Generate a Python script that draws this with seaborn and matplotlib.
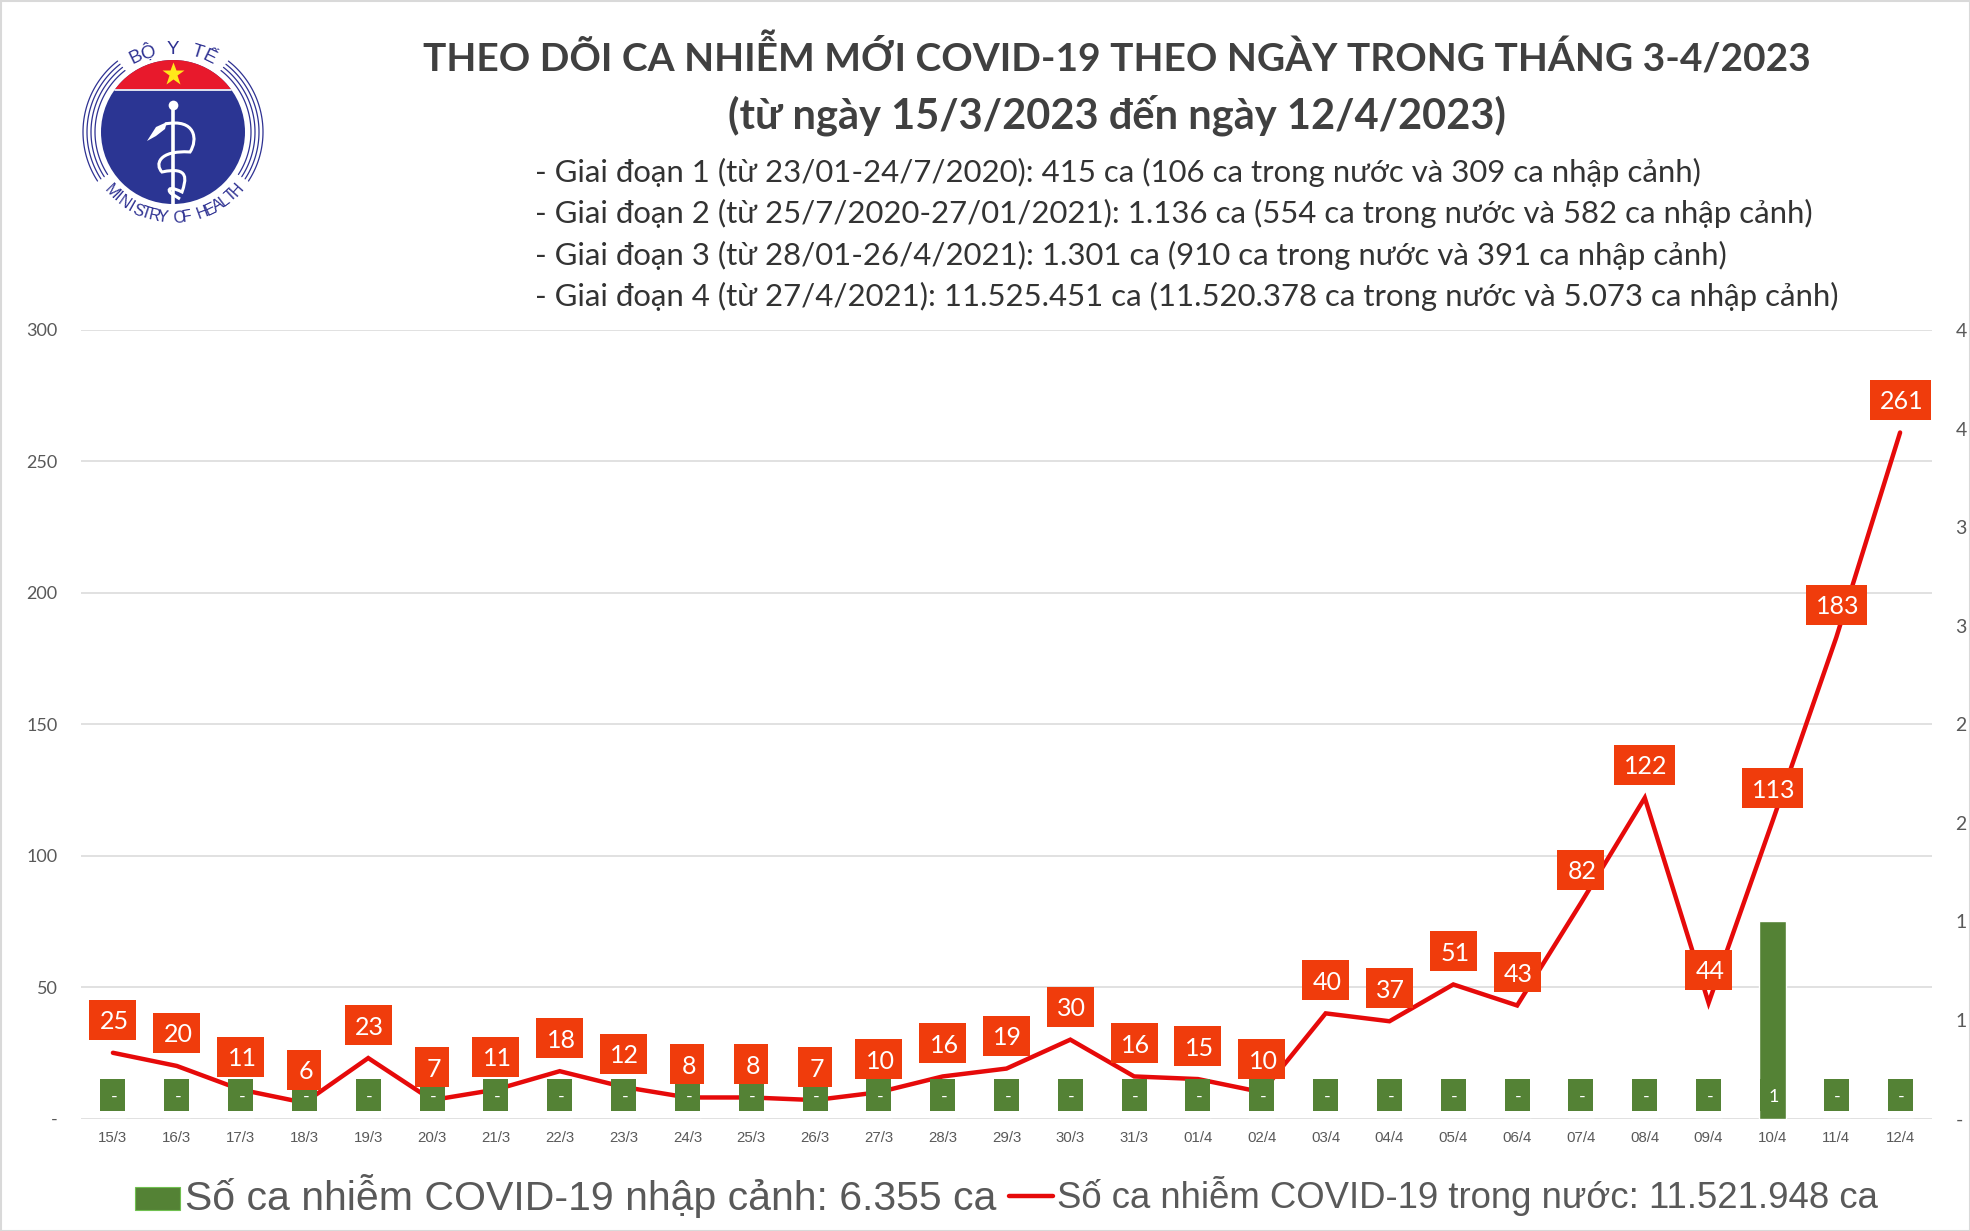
import numpy as np
import pandas as pd
import seaborn as sns
import matplotlib.pyplot as plt
from matplotlib.offsetbox import AnnotationBbox, DrawingArea
from matplotlib.patches import Circle, Polygon, PathPatch, Rectangle
from matplotlib.path import Path

# Du lieu doc tu bieu do
dates = ["15/3", "16/3", "17/3", "18/3", "19/3", "20/3", "21/3", "22/3", "23/3", "24/3",
         "25/3", "26/3", "27/3", "28/3", "29/3", "30/3", "31/3", "01/4", "02/4", "03/4",
         "04/4", "05/4", "06/4", "07/4", "08/4", "09/4", "10/4", "11/4", "12/4"]
domestic = [25, 20, 11, 6, 23, 7, 11, 18, 12, 8, 8, 7, 10, 16, 19, 30, 16, 15, 10, 40,
            37, 51, 43, 82, 122, 44, 113, 183, 261]
imported = [0, 0, 0, 0, 0, 0, 0, 0, 0, 0, 0, 0, 0, 0, 0, 0, 0, 0, 0, 0,
            0, 0, 0, 0, 0, 0, 1, 0, 0]
left_ticks = [0, 50, 100, 150, 200, 250, 300]
left_labels = ["-", "50", "100", "150", "200", "250", "300"]
right_ticks = [0, 0.5, 1, 1.5, 2, 2.5, 3, 3.5, 4]
right_labels = ["-", "1", "1", "2", "2", "3", "3", "4", "4"]

title_lines = ["THEO DÕI CA NHIỄM MỚI COVID-19 THEO NGÀY TRONG THÁNG 3-4/2023",
               "(từ ngày 15/3/2023 đến ngày 12/4/2023)"]
info_lines = ["- Giai đoạn 1 (từ 23/01-24/7/2020): 415 ca (106 ca trong nước và 309 ca nhập cảnh)",
              "- Giai đoạn 2 (từ 25/7/2020-27/01/2021): 1.136 ca (554 ca trong nước và 582 ca nhập cảnh)",
              "- Giai đoạn 3 (từ 28/01-26/4/2021): 1.301 ca (910 ca trong nước và 391 ca nhập cảnh)",
              "- Giai đoạn 4 (từ 27/4/2021): 11.525.451 ca (11.520.378 ca trong nước và 5.073 ca nhập cảnh)"]
legend_bar = "Số ca nhiễm COVID-19 nhập cảnh: 6.355 ca"
legend_line = "Số ca nhiễm COVID-19 trong nước: 11.521.948 ca"

RED_BOX = "#F03C0C"
RED_LINE = "#E60A0A"
GREEN = "#548235"
GREY = "#595959"
NAVY = "#2E3192"
W, H = 1970, 1231
LABEL_FONT = ["Lato", "Open Sans", "DejaVu Sans"]
ARIAL = ["Liberation Sans", "DejaVu Sans"]


def px(v):
    return v * 72 / 100


def add_box(ax, coords, i, y, w, h, dy, color, text, fontsize, zorder):
    """Hop nhan co kich thuoc co dinh theo pixel, dat lech khoi diem du lieu."""
    area = DrawingArea(px(w), px(h), 0, 0)
    area.add_artist(Rectangle((0, 0), px(w), px(h), fc=color, ec="none"))
    box = AnnotationBbox(area, (i, y), xycoords=coords, xybox=(0, px(dy)), boxcoords="offset points",
                         frameon=False, pad=0, box_alignment=(0.5, 0.5), zorder=zorder,
                         annotation_clip=False)
    ax.add_artist(box)
    ax.annotate(text, (i, y), xycoords=coords, xytext=(1, px(dy)), textcoords="offset points", ha="center",
                va="center_baseline", color="white", fontsize=fontsize, family=LABEL_FONT,
                zorder=zorder + 1, annotation_clip=False)


def draw_logo(ov):
    cx, cy, r = 173, 132, 72
    ov.add_patch(Circle((cx, cy), r, fc="#2B3593", ec="none"))
    half = np.arccos(43 / r)
    ang = np.linspace(-half, half, 40)
    ov.add_patch(Polygon(np.c_[cx + r * np.sin(ang), cy - r * np.cos(ang)], fc="#E8192C", ec="none"))
    ov.plot([cx - 58, cx + 58], [89.5, 89.5], color="white", lw=1.2)
    ov.plot([cx], [74], marker="*", ms=17, color="#FFE81A", mec="none")
    for rad in [78, 82, 86, 90]:
        a = np.radians(np.linspace(128, 213, 50))
        ov.plot(cx + rad * np.cos(a), cy - rad * np.sin(a), color=NAVY, lw=0.9)
        ov.plot(cx - rad * np.cos(a), cy - rad * np.sin(a), color=NAVY, lw=0.9)
    # gay va ran
    ov.plot([cx, cx], [106, 204], color="white", lw=2.6, solid_capstyle="round")
    ov.plot([cx], [105], marker="o", ms=7, color="white", mec="none")
    snake = Path([(165, 124), (196, 118), (198, 140), (190, 152), (158, 150), (155, 165), (162, 172),
                  (190, 166), (186, 180), (182, 192), (166, 184), (168, 192), (172, 194), (180, 199)],
                 [Path.MOVETO] + [Path.CURVE4] * 12 + [Path.LINETO])
    ov.add_patch(PathPatch(snake, fc="none", ec="white", lw=2.2))
    ov.add_patch(Polygon([(147, 141), (156, 127), (167, 122), (165, 129), (156, 136)], fc="white", ec="none"))
    for k, ch in enumerate("BỘ Y TẾ"):
        t = np.radians(-26 + k * 52 / 6)
        ov.text(cx + 83 * np.sin(t), cy - 83 * np.cos(t), ch, rotation=-np.degrees(t), ha="center",
                va="center", fontsize=13.5, color=NAVY, family=ARIAL)
    for k, ch in enumerate("MINISTRY OF HEALTH"):
        t = np.radians(-46 + k * 94 / 17)
        ov.text(cx + 86 * np.sin(t), cy + 86 * np.cos(t), ch, rotation=np.degrees(t), ha="center",
                va="center", fontsize=11.5, color=NAVY, family=ARIAL)


def main():
    sns.set_theme(style="white")
    fig = plt.figure(figsize=(W / 100, H / 100), dpi=100, facecolor="white")
    ax = fig.add_axes([81 / W, 1 - 1118.5 / H, (1932 - 81) / W, (1118.5 - 330) / H])
    ax2 = ax.twinx()

    df = pd.DataFrame({"date": dates, "pos": np.arange(len(dates)), "domestic": domestic, "imported": imported})

    sns.lineplot(data=df, x="pos", y="domestic", ax=ax, color=RED_LINE, linewidth=3.2, sort=False,
                 solid_capstyle="round", solid_joinstyle="miter", zorder=3)
    sns.barplot(data=df, x="pos", y="imported", ax=ax2, color=GREEN, saturation=1, width=0.42, zorder=2)

    ax.set_xlim(-0.5, len(dates) - 0.5)
    ax2.set_xlim(-0.5, len(dates) - 0.5)
    ax.set_ylim(0, 300)
    ax2.set_ylim(0, 4)
    ax.set_yticks(left_ticks, left_labels)
    ax2.set_yticks(right_ticks, right_labels)
    ax.set_xticks(df["pos"], dates)
    ax.set_xlabel("")
    ax.set_ylabel("")
    ax2.set_xlabel("")
    ax2.set_ylabel("")
    ax.grid(axis="y", color="#D9D9D9", lw=1.1)
    ax.grid(axis="x", visible=False)
    ax.set_axisbelow(True)
    ax2.grid(False)
    for a in (ax, ax2):
        for s in a.spines.values():
            s.set_visible(False)
    ax.tick_params(axis="y", length=0, pad=17, labelsize=13, labelcolor=GREY)
    ax.tick_params(axis="x", length=0, pad=9, labelsize=10.8, labelcolor=GREY)
    ax2.tick_params(axis="y", length=0, pad=17, labelsize=14, labelcolor=GREY)
    for lab in ax.get_yticklabels() + ax2.get_yticklabels():
        lab.set_family(LABEL_FONT)
    for lab in ax.get_xticklabels():
        lab.set_family(ARIAL)

    # nhan do nam tren nhan xanh, duong do nam duoi nhan xanh
    for i, v in enumerate(imported):
        add_box(ax2, ax2.transData, i, 0, 25, 32, 23.5, GREEN, str(v) if v else "-", 13, 5)
    for i, v in enumerate(domestic):
        width = {1: 34, 2: 47, 3: 61}[len(str(v))]
        add_box(ax2, ax.transData, i, v, width, 40, 33, RED_BOX, str(v), 18, 7)

    # lop phu theo pixel cho tieu de, logo, chu thich
    ov = fig.add_axes([0, 0, 1, 1], facecolor="none", zorder=10)
    ov.set_xlim(0, W)
    ov.set_ylim(H, 0)
    ov.axis("off")
    ov.add_patch(Rectangle((0.5, 0.5), W - 1, H - 1, fc="none", ec="#D9D9D9", lw=1.5))

    ov.text(1117, 56, title_lines[0], ha="center", va="center", fontsize=28, fontweight="bold",
            color="#404040", family=LABEL_FONT)
    ov.text(1117, 115, title_lines[1], ha="center", va="center", fontsize=30, fontweight="bold",
            color="#404040", family=LABEL_FONT)
    for line, y in zip(info_lines, [172, 213, 255, 296]):
        ov.text(535, y, line, ha="left", va="center", fontsize=22.4, color="#333333", family=LABEL_FONT)

    ov.add_patch(Rectangle((135, 1187), 45, 23, fc=GREEN, ec="#70C050", lw=0.8))
    ov.text(185, 1196, legend_bar, ha="left", va="center", fontsize=29.5, color=GREY, family=ARIAL)
    ov.plot([1009, 1053], [1196, 1196], color=RED_LINE, lw=3.2, solid_capstyle="round")
    ov.text(1057, 1196, legend_line, ha="left", va="center", fontsize=26.25, color=GREY, family=ARIAL)

    draw_logo(ov)
    fig.savefig("out.png", dpi=100)


if __name__ == "__main__":
    main()
